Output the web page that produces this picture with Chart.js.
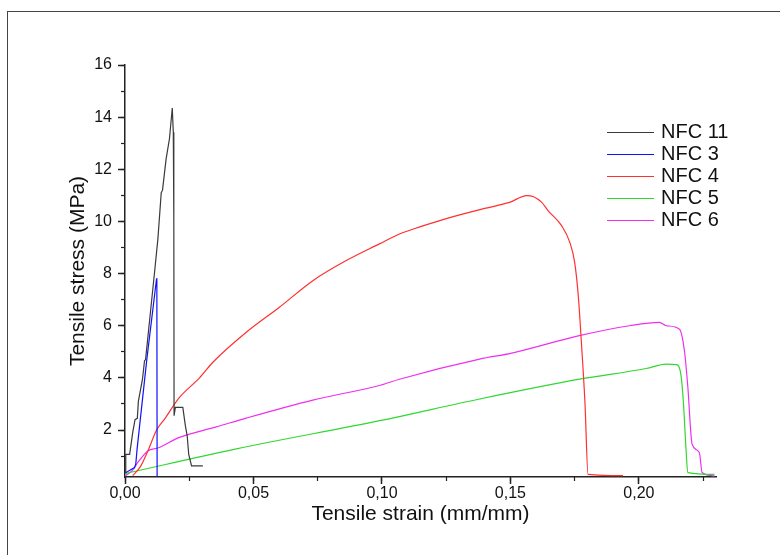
<!DOCTYPE html>
<html>
<head>
<meta charset="utf-8">
<script src="https://cdn.jsdelivr.net/npm/chart.js@4"></script>
<style>
  body { margin: 0; background: #fff; overflow: hidden; }
  #frame { position: absolute; left: 7px; top: 11px; width: 820px; height: 600px; border: 1px solid #444; }
  #wrap { position: absolute; left: 0; top: 0; width: 780px; height: 555px; }
  #legend { position: absolute; left: 607px; top: 120px; font-family: "Liberation Sans", Arial, sans-serif; font-size: 20px; color: #111; }
  .row { height: 22px; line-height: 22px; white-space: nowrap; }
  .swatch { display: inline-block; width: 47px; height: 0; border-top: 1.5px solid; vertical-align: middle; margin-right: 7px; }
</style>
</head>
<body>
<div id="frame"></div>
<div id="wrap">
  <canvas id="tensileChart" width="780" height="555"></canvas>
  <div id="legend"></div>
</div>
<script>
// tensile curves (strain mm/mm, stress MPa)
const seriesNames = ['NFC 11', 'NFC 3', 'NFC 4', 'NFC 5', 'NFC 6'];
const seriesColors = ['#3a3a3a', '#1010ff', '#ff3030', '#30d830', '#ee30ee'];
const seriesSmooth = [false, false, true, true, true];

const nfc11Strain = [0, 0.0003, 0.0018, 0.0030, 0.0039, 0.0048, 0.0052, 0.0068, 0.0076, 0.0080, 0.0115, 0.0128, 0.0141, 0.0146, 0.0160, 0.0173, 0.0184, 0.0188, 0.0190, 0.0191, 0.0196, 0.0225, 0.0235, 0.0242, 0.0248, 0.0259, 0.0303];
const nfc11Stress = [0.40, 1.07, 1.07, 1.90, 2.40, 2.45, 3.10, 3.95, 4.66, 4.70, 8.05, 9.33, 11.10, 11.20, 12.40, 13.17, 14.35, 13.42, 10.10, 2.55, 2.87, 2.87, 2.16, 1.78, 1.07, 0.63, 0.63];

const nfc3Strain = [0, 0.0019, 0.0037, 0.0042, 0.0047, 0.0085, 0.0123, 0.0124, 0.0125];
const nfc3Stress = [0.35, 0.46, 0.56, 0.70, 1.27, 4.72, 7.82, 7.60, 0.20];

const nfc4Strain = [0.003, 0.006, 0.0089, 0.0123, 0.0154, 0.0212, 0.0290, 0.0342, 0.0472, 0.0601, 0.0731, 0.0861, 0.0990, 0.1068, 0.1150, 0.1254, 0.1400, 0.1496, 0.1563, 0.1590, 0.1621, 0.1647, 0.1699, 0.1731, 0.1750, 0.1764, 0.1777, 0.1790, 0.1802, 0.1938];
const nfc4Stress = [0.25, 0.60, 1.20, 2.00, 2.42, 3.25, 4.00, 4.60, 5.75, 6.71, 7.73, 8.50, 9.14, 9.52, 9.80, 10.12, 10.50, 10.73, 10.99, 10.95, 10.74, 10.41, 9.84, 9.20, 8.43, 7.15, 5.23, 3.06, 0.30, 0.25];

const nfc5Strain = [0, 0.0433, 0.0996, 0.1380, 0.1769, 0.2028, 0.2106, 0.2145, 0.2164, 0.2173, 0.2184, 0.2190, 0.2294];
const nfc5Stress = [0.33, 1.28, 2.37, 3.19, 3.95, 4.36, 4.53, 4.51, 4.09, 3.08, 1.15, 0.37, 0.30];

const nfc6Strain = [0, 0.0030, 0.0050, 0.0089, 0.0128, 0.0212, 0.0355, 0.0472, 0.0731, 0.0994, 0.1068, 0.1380, 0.1505, 0.1768, 0.1963, 0.2080, 0.2106, 0.2158, 0.2177, 0.2190, 0.2207, 0.2235, 0.2246, 0.2294];
const nfc6Stress = [0.24, 0.46, 0.76, 1.20, 1.31, 1.72, 2.12, 2.46, 3.15, 3.72, 3.95, 4.72, 4.95, 5.62, 6.00, 6.13, 6.00, 5.87, 5.05, 3.70, 1.46, 1.14, 0.37, 0.24];

const strainSets = [nfc11Strain, nfc3Strain, nfc4Strain, nfc5Strain, nfc6Strain];
const stressSets = [nfc11Stress, nfc3Stress, nfc4Stress, nfc5Stress, nfc6Stress];

const tickFont = { family: '"Liberation Sans", Arial, sans-serif', size: 16 };
const titleFont = { family: '"Liberation Sans", Arial, sans-serif', size: 21 };

const datasets = seriesNames.map((name, i) => ({
  label: name,
  data: strainSets[i].map((x, j) => ({ x: x, y: stressSets[i][j] })),
  borderColor: seriesColors[i],
  backgroundColor: seriesColors[i],
  borderWidth: 1.2,
  pointRadius: 0,
  showLine: true,
  cubicInterpolationMode: seriesSmooth[i] ? 'monotone' : 'default',
  tension: 0
}));

const ctx = document.getElementById('tensileChart').getContext('2d');

new Chart(ctx, {
  type: 'scatter',
  data: { datasets: datasets },
  options: {
    responsive: false,
    animation: false,
    devicePixelRatio: 1,
    layout: { padding: { top: 65, right: 64, left: 0, bottom: 0 } },
    plugins: {
      legend: { display: false },
      tooltip: { enabled: false }
    },
    scales: {
      x: {
        type: 'linear',
        position: 'bottom',
        weight: 1,
        min: 0,
        max: 0.23,
        afterFit: scale => { scale.height = 78 },
        border: { display: true, color: '#222', width: 1.5 },
        grid: { drawOnChartArea: false, drawTicks: true, tickLength: 7, tickColor: '#222', tickWidth: 1.5 },
        ticks: {
          stepSize: 0.05,
          includeBounds: false,
          maxRotation: 0,
          padding: 0,
          color: '#111',
          font: tickFont,
          callback: value => value.toFixed(2).replace('.', ',')
        },
        title: {
          display: true,
          text: 'Tensile strain (mm/mm)',
          color: '#111',
          font: titleFont,
          padding: { top: 0, bottom: 28 }
        }
      },
      xMinor: {
        type: 'linear',
        position: 'bottom',
        weight: 0,
        min: 0,
        max: 0.23,
        afterFit: scale => { scale.height = 0 },
        border: { display: false },
        grid: { drawOnChartArea: false, drawTicks: true, tickLength: 4, tickColor: '#222', tickWidth: 1.2 },
        ticks: { stepSize: 0.025, includeBounds: false, display: false }
      },
      y: {
        type: 'linear',
        position: 'left',
        weight: 1,
        min: 0.2,
        max: 16,
        afterFit: scale => { scale.width = 125 },
        border: { display: true, color: '#222', width: 1.5 },
        grid: { drawOnChartArea: false, drawTicks: true, tickLength: 7, tickColor: '#222', tickWidth: 1.5 },
        ticks: {
          stepSize: 2,
          includeBounds: false,
          padding: 6,
          color: '#111',
          font: tickFont
        },
        title: {
          display: true,
          text: 'Tensile stress (MPa)',
          color: '#111',
          font: titleFont,
          padding: { top: 66, bottom: 0 }
        }
      },
      yMinor: {
        type: 'linear',
        position: 'left',
        weight: 0,
        min: 0.2,
        max: 16,
        afterFit: scale => { scale.width = 0 },
        border: { display: false },
        grid: { drawOnChartArea: false, drawTicks: true, tickLength: 4, tickColor: '#222', tickWidth: 1.2 },
        ticks: { stepSize: 1, includeBounds: false, display: false }
      }
    }
  }
});

// legend in the upper right, built from the same series lists
const legendDiv = document.getElementById('legend');
seriesNames.forEach((name, i) => {
  const row = document.createElement('div');
  row.className = 'row';
  row.innerHTML = `<span class="swatch" style="border-top-color:${seriesColors[i]}"></span>${name}`;
  legendDiv.appendChild(row);
});
</script>
</body>
</html>
